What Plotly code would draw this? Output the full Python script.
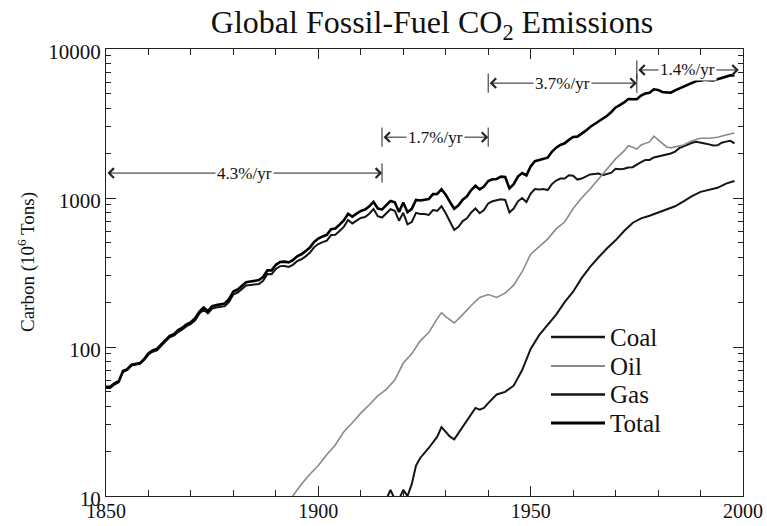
import numpy as np
import plotly.graph_objects as go

# ---------------- data (10^6 tons carbon) ----------------
total_years = list(range(1850, 1999))
total = [54, 54, 57, 59, 69, 71, 76, 77, 78, 83,
         91, 95, 97, 104, 112, 119, 122, 130, 135, 142,
         147, 156, 173, 184, 174, 188, 191, 194, 196, 210,
         236, 243, 256, 272, 275, 277, 281, 295, 327, 327,
         356, 372, 374, 370, 383, 406, 419, 440, 465, 507,
         534, 552, 566, 617, 624, 663, 707, 784, 750, 785,
         819, 836, 879, 943, 850, 838, 901, 955, 936, 806,
         932, 803, 845, 970, 963, 975, 983, 1062, 1065, 1145,
         1053, 940, 847, 893, 973, 1027, 1130, 1209, 1142, 1192,
         1299, 1334, 1342, 1391, 1383, 1160, 1238, 1392, 1469, 1419,
         1630, 1767, 1795, 1841, 1865, 2042, 2177, 2270, 2330, 2454,
         2569, 2580, 2686, 2833, 2995, 3130, 3288, 3393, 3566, 3780,
         4053, 4208, 4376, 4614, 4623, 4596, 4864, 5026, 5087, 5369,
         5315, 5152, 5113, 5094, 5280, 5439, 5607, 5752, 5965, 6097,
         6127, 6217, 6164, 6162, 6266, 6398, 6542, 6651, 6643]

coal_years = list(range(1850, 1999))
coal = [53, 53, 56, 58, 68, 70, 75, 76, 77, 82,
        89, 93, 95, 102, 109, 116, 119, 126, 131, 138,
        143, 151, 168, 178, 168, 181, 184, 187, 188, 201,
        226, 232, 244, 259, 261, 262, 265, 278, 309, 308,
        334, 349, 350, 345, 356, 377, 388, 406, 429, 467,
        491, 506, 517, 564, 567, 601, 640, 711, 675, 705,
        734, 746, 784, 845, 755, 739, 795, 841, 820, 704,
        795, 665, 690, 795, 780, 780, 770, 830, 820, 880,
        790, 690, 610, 640, 700, 730, 800, 850, 790, 830,
        920, 950, 960, 980, 970, 800, 850, 950, 1000, 940,
        1070, 1150, 1140, 1150, 1130, 1240, 1310, 1350, 1350, 1420,
        1410, 1330, 1350, 1400, 1440, 1450, 1460, 1420, 1450, 1480,
        1570, 1560, 1570, 1600, 1610, 1680, 1740, 1800, 1800, 1870,
        1900, 1920, 1960, 1990, 2050, 2160, 2220, 2280, 2350, 2380,
        2360, 2320, 2290, 2250, 2260, 2350, 2390, 2420, 2330]

oil_years = [1893, 1894, 1896, 1898, 1900, 1902, 1904, 1906, 1908, 1910, 1912,
             1914, 1916, 1918, 1920, 1922, 1924, 1926, 1928, 1929, 1930,
             1932, 1934, 1936, 1938, 1940, 1942, 1944, 1946, 1948, 1950,
             1952, 1954, 1956, 1958, 1960, 1962, 1964, 1966, 1968, 1970,
             1972, 1973, 1974, 1975, 1976, 1978, 1979, 1980, 1981, 1982,
             1983, 1984, 1986, 1988, 1990, 1992, 1994, 1996, 1998]
oil = [9, 10, 12, 14, 16, 19, 22, 27, 31, 36, 41,
       47, 52, 60, 78, 90, 110, 125, 155, 170, 160,
       145, 165, 190, 215, 225, 215, 230, 260, 320, 420,
       470, 530, 620, 690, 850, 1000, 1150, 1350, 1560, 1830,
       2070, 2240, 2190, 2130, 2270, 2380, 2600, 2450, 2300, 2200,
       2170, 2200, 2270, 2420, 2520, 2520, 2560, 2650, 2730]

gas_years = [1915, 1916, 1917, 1918, 1919, 1920, 1921, 1922, 1923, 1924, 1926,
             1928, 1929, 1930, 1931, 1932, 1934, 1936, 1937, 1938, 1939,
             1940, 1942, 1944, 1946, 1948, 1950, 1952, 1954, 1956, 1958,
             1960, 1962, 1964, 1966, 1968, 1970, 1972, 1974, 1976, 1978,
             1980, 1982, 1984, 1986, 1988, 1990, 1992, 1994, 1996, 1998]
gas = [9, 9.5, 11, 9.5, 9.5, 11, 10, 12, 16, 18, 21,
       25, 29, 27, 25, 24, 29, 35, 39, 38, 39,
       42, 48, 50, 55, 70, 97, 120, 140, 165, 200,
       235, 290, 345, 400, 460, 520, 600, 680, 730, 760,
       800, 840, 880, 950, 1030, 1100, 1130, 1170, 1250, 1300]

series_names = ["Coal", "Oil", "Gas", "Total"]

# growth-rate periods: (start year, end year, level, label)
period_start = [1850, 1915, 1940, 1975]
period_end = [1915, 1940, 1975, 1999]
period_level = [1470, 2560, 5900, 7230]
period_label = ["4.3%/yr", "1.7%/yr", "3.7%/yr", "1.4%/yr"]

x_tickvals = [1850, 1900, 1950, 2000]
y_tickvals = [10, 100, 1000, 10000]

# ---------------- styling ----------------
SERIF = "Liberation Serif, Times New Roman, serif"
INK = "#111111"
styles = {
    "Coal": dict(color="#151515", width=2),
    "Oil": dict(color="#8a8a8a", width=1.6),
    "Gas": dict(color="#151515", width=2),
    "Total": dict(color="#000000", width=2.6),
}
W, H = 767, 526
ML, MR, MT, MB = 106, 24, 49, 30
PW, PH = W - ML - MR, H - MT - MB

fig = go.Figure()
for name, xs, ys in zip(series_names,
                        [coal_years, oil_years, gas_years, total_years],
                        [coal, oil, gas, total]):
    fig.add_trace(go.Scatter(x=xs, y=ys, name=name, mode="lines",
                             line=styles[name], showlegend=False))

annotations = []
shapes = []
# growth-rate arrows
for xs, xe, lv, lab in zip(period_start, period_end, period_level, period_label):
    ly = float(np.log10(lv))
    annotations.append(dict(x=xe, y=ly, ax=xs, ay=ly, xref="x", yref="y",
                            axref="x", ayref="y", text="", showarrow=True,
                            arrowside="end+start", arrowhead=4, startarrowhead=4,
                            arrowsize=1.9, startarrowsize=1.9, arrowwidth=1,
                            arrowcolor="#222", standoff=0, startstandoff=0))
    annotations.append(dict(x=(xs + xe) / 2, y=ly, xref="x", yref="y", text=lab,
                            showarrow=False, bgcolor="white", borderpad=1,
                            font=dict(family=SERIF, size=17, color=INK)))
    for xb in (xs, xe):
        if xb in (1850, 1999):
            continue
        fig.add_trace(go.Scatter(x=[xb, xb], y=[lv / 1.16, lv * 1.16], mode="lines",
                                 line=dict(color="#222", width=1),
                                 showlegend=False, hoverinfo="skip"))

# legend drawn as line samples + labels (paper coordinates)
leg_x0, leg_x1 = (551 - ML) / PW, (605 - ML) / PW
leg_rows = [337, 366, 394.5, 423]
for name, ypx in zip(series_names, leg_rows):
    yp = (H - MB - ypx) / PH
    st = styles[name]
    shapes.append(dict(type="line", xref="paper", yref="paper", x0=leg_x0, x1=leg_x1,
                       y0=yp, y1=yp, line=dict(color=st["color"], width=st["width"] + 0.6)))
    annotations.append(dict(x=leg_x1 + 3 / PW, y=yp, xref="paper", yref="paper",
                            text=name, showarrow=False, xanchor="left", yanchor="middle",
                            font=dict(family=SERIF, size=25, color=INK)))

# y-axis title as rotated text
annotations.append(dict(x=(26 - ML) / PW, y=(H - MB - 262) / PH, xref="paper", yref="paper",
                        text="Carbon (10<sup>6</sup> Tons)", textangle=-90, showarrow=False,
                        xanchor="center", yanchor="middle",
                        font=dict(family=SERIF, size=19, color=INK)))

fig.update_layout(
    width=W, height=H,
    margin=dict(l=ML, r=MR, t=MT, b=MB),
    paper_bgcolor="white", plot_bgcolor="white",
    title=dict(text="Global Fossil-Fuel CO<sub>2</sub> Emissions",
               x=432 / W, xanchor="center", y=1 - 22 / H, yanchor="middle",
               font=dict(family=SERIF, size=32, color=INK)),
    font=dict(family=SERIF, color=INK),
    showlegend=False,
    annotations=annotations,
    shapes=shapes,
)

fig.update_xaxes(range=[1850, 2000], tickvals=x_tickvals,
                 ticktext=[str(v) for v in x_tickvals],
                 ticks="inside", ticklen=10, tickwidth=1, tickcolor="#222",
                 showline=True, linecolor="#222", linewidth=1.2, mirror="ticks",
                 showgrid=False, zeroline=False, automargin=False,
                 ticklabelstandoff=-3,
                 tickfont=dict(family=SERIF, size=20, color=INK),
                 minor=dict(dtick=10, ticks="inside", ticklen=6, tickcolor="#222",
                            showgrid=False))
fig.update_yaxes(type="log", range=[1, 4], tickvals=y_tickvals,
                 ticktext=[str(v) for v in y_tickvals],
                 ticks="inside", ticklen=10, tickwidth=1, tickcolor="#222",
                 showline=True, linecolor="#222", linewidth=1.2, mirror="ticks",
                 showgrid=False, zeroline=False, automargin=False,
                 ticklabelshift=3,
                 tickfont=dict(family=SERIF, size=21, color=INK),
                 minor=dict(dtick="D1", ticks="inside", ticklen=5, tickcolor="#222",
                            showgrid=False))

fig.write_html("out.html",
               config={"displayModeBar": False},
               post_script="document.body.style.margin='0px';"
                           "document.body.style.overflow='hidden';")
